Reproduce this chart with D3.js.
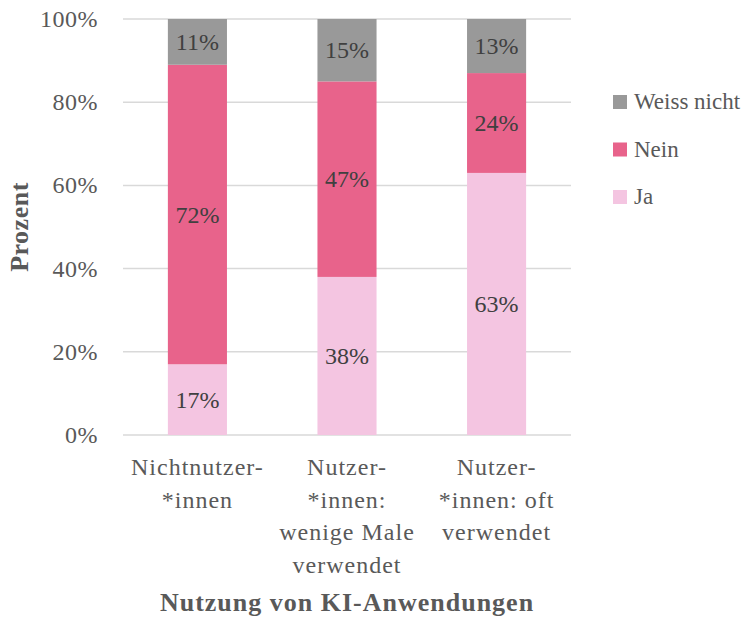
<!DOCTYPE html>
<html>
<head>
<meta charset="utf-8">
<script src="https://cdn.jsdelivr.net/npm/d3@7"></script>
<style>
  body { margin: 0; background: #fff; }
  svg text { font-family: "Liberation Serif", "Times New Roman", serif; }
</style>
</head>
<body>
<svg id="chart" width="750" height="621"></svg>
<script>
// categories (one array of lines per label)
const categories = ["Nichtnutzer", "Wenige Male", "Oft"];
const categoryLines = [
  ["Nichtnutzer-", "*innen"],
  ["Nutzer-", "*innen:", "wenige Male", "verwendet"],
  ["Nutzer-", "*innen: oft", "verwendet"]
];
// series, bottom to top
const seriesNames = ["Ja", "Nein", "Weiss nicht"];
const jaValues = [17, 38, 63];
const neinValues = [72, 47, 24];
const weissValues = [11, 15, 13];
const seriesColors = ["#f4c5e1", "#e8638b", "#999999"];
const yTicks = [0, 20, 40, 60, 80, 100];

const svg = d3.select('#chart');
const margin = { left: 123, right: 179, top: 19, bottom: 186 };
const width = 750 - margin.left - margin.right;
const height = 621 - margin.top - margin.bottom;

const rows = categories.map((c, i) => ({
  cat: c, "Ja": jaValues[i], "Nein": neinValues[i], "Weiss nicht": weissValues[i]
}));
const stacked = d3.stack().keys(seriesNames)(rows);

const x = d3.scaleBand().domain(categories).range([0, width]).paddingInner(0.605).paddingOuter(0.3);
const y = d3.scaleLinear().domain([0, 100]).range([height, 0]);
const color = d3.scaleOrdinal().domain(seriesNames).range(seriesColors);

const g = svg.append('g').attr('transform', `translate(${margin.left},${margin.top})`);

// gridlines
g.selectAll('line.grid')
  .data(yTicks)
  .enter()
  .append('line')
  .attr('x1', 0).attr('x2', width)
  .attr('y1', d => y(d)).attr('y2', d => y(d))
  .attr('stroke', '#d9d9d9')
  .attr('stroke-width', 1.5);

// y tick labels
g.selectAll('text.ytick')
  .data(yTicks)
  .enter()
  .append('text')
  .attr('x', -25)
  .attr('y', d => y(d) + 8)
  .attr('text-anchor', 'end')
  .attr('fill', '#595959')
  .style('font-size', '24px')
  .style('letter-spacing', '0.5px')
  .text(d => d + '%');

// bars
const layers = g.selectAll('g.layer')
  .data(stacked)
  .enter()
  .append('g')
  .attr('fill', d => color(d.key));

layers.selectAll('rect')
  .data(d => d)
  .enter()
  .append('rect')
  .attr('x', d => x(d.data.cat))
  .attr('width', x.bandwidth())
  .attr('y', d => y(d[1]))
  .attr('height', d => y(d[0]) - y(d[1]));

// value labels
layers.each(function(layer) {
  d3.select(this).selectAll('text')
    .data(layer)
    .enter()
    .append('text')
    .attr('x', d => x(d.data.cat) + x.bandwidth() / 2)
    .attr('y', d => (y(d[0]) + y(d[1])) / 2 + 8)
    .attr('text-anchor', 'middle')
    .attr('fill', '#404040')
    .style('font-size', '24px')
    .text(d => (d[1] - d[0]) + '%');
});

// category labels
categories.forEach((c, i) => {
  const t = g.append('text')
    .attr('text-anchor', 'middle')
    .attr('fill', '#595959')
    .style('font-size', '24px')
    .style('letter-spacing', '1px');
  categoryLines[i].forEach((line, j) => {
    t.append('tspan')
      .attr('x', x(c) + x.bandwidth() / 2)
      .attr('y', height + 40 + j * 32.5)
      .text(line);
  });
});

// axis titles
svg.append('text')
  .attr('x', margin.left + width / 2)
  .attr('y', 611)
  .attr('text-anchor', 'middle')
  .attr('fill', '#595959')
  .style('font-size', '26px')
  .style('font-weight', 'bold')
  .style('letter-spacing', '1px')
  .text('Nutzung von KI-Anwendungen');

svg.append('text')
  .attr('transform', 'translate(28,227) rotate(-90)')
  .attr('text-anchor', 'middle')
  .attr('fill', '#595959')
  .style('font-size', '26px')
  .style('font-weight', 'bold')
  .style('letter-spacing', '0.5px')
  .text('Prozent');

// legend (top entry is last series)
const legendItems = seriesNames.slice().reverse();
const legend = svg.selectAll('g.legend')
  .data(legendItems)
  .enter()
  .append('g')
  .attr('transform', (d, i) => `translate(613,${95 + i * 47.5})`);

legend.append('rect')
  .attr('width', 14).attr('height', 14)
  .attr('fill', d => color(d));

legend.append('text')
  .attr('x', 21)
  .attr('y', 14)
  .attr('fill', '#595959')
  .style('font-size', '23px')
  .text(d => d);
</script>
</body>
</html>
